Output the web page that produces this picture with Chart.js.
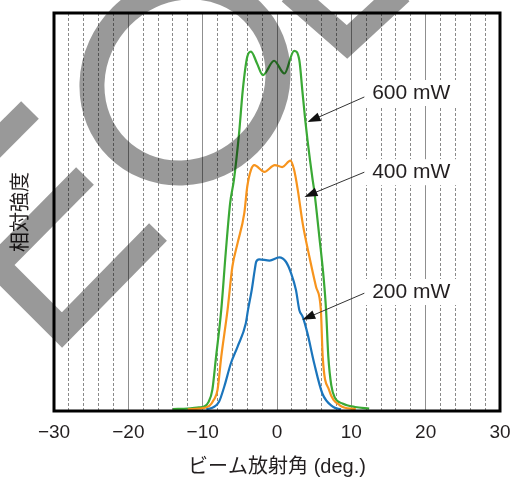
<!DOCTYPE html>
<html>
<head>
<meta charset="utf-8">
<script src="https://cdn.jsdelivr.net/npm/chart.js@4.4.1/dist/chart.umd.min.js"></script>
<style>
  body { margin: 0; background: #fff; }
</style>
</head>
<body>
<canvas id="chart" width="513" height="480"></canvas>
<script>
// Beam angle (deg) and relative intensity (0-100)
const angle600 = [-14, -12, -10.5, -9.8, -9.2, -8.7, -8.2, -7.5, -6.9, -6.3, -5.8, -5.1, -4.6, -4.0, -3.5, -2.7, -1.9, -0.4, 1.0, 2.3, 3.0, 3.4, 3.8, 4.1, 4.8, 5.0, 5.7, 6.3, 6.6, 6.9, 7.3, 7.8, 8.8, 10.5, 12.4];
const power600 = [0.5, 0.6, 0.9, 1.1, 2.3, 5.3, 13.6, 25.4, 39.7, 52.3, 58.0, 69.8, 80.7, 89.0, 90.3, 87.4, 84.4, 88.0, 84.8, 90.5, 88.2, 80.7, 73.1, 68.1, 58.0, 55.5, 43.7, 32.9, 25.4, 13.8, 6.5, 3.3, 1.9, 1.0, 0.6];

const angle400 = [-12, -10.5, -9.1, -8.5, -8.0, -7.5, -6.65, -6.0, -5.3, -4.4, -4.0, -3.5, -3.05, -1.7, -0.3, 0.7, 1.8, 2.3, 2.8, 3.45, 4.35, 5.25, 5.9, 6.15, 7.0, 8.4, 10.6];
const power400 = [0.4, 0.6, 1.3, 2.8, 5.3, 13.6, 25.4, 36.3, 42.2, 49.7, 56.4, 60.6, 61.8, 60.1, 61.8, 61.3, 62.9, 60.6, 55.5, 47.2, 38.8, 31.2, 25.4, 13.6, 5.3, 1.5, 0.4];

const angle200 = [-9.5, -8.5, -7.8, -7.1, -6.2, -5.3, -4.2, -3.9, -3.4, -3.0, -2.8, -2.4, -1.0, 0.3, 1.2, 1.9, 2.55, 3.0, 3.45, 4.1, 5.0, 6.1, 7.5, 8.6];
const power200 = [0.4, 1.0, 2.3, 6.1, 12.0, 16.2, 22.0, 25.4, 30.4, 35.4, 37.5, 38.1, 37.8, 38.6, 37.5, 34.6, 30.4, 25.4, 23.7, 19.5, 12.0, 4.4, 1.1, 0.4];

const seriesNames = ['200 mW', '400 mW', '600 mW'];
const seriesColors = ['#1b75bc', '#f7941d', '#3aa935'];

// callout labels (data units)
const calloutText = ['600 mW', '400 mW', '200 mW'];
const calloutX = 12.8;
const calloutY = [79.9, 60, 29.9];
const arrowFromX = 11.75;
const arrowFromY = [78.9, 60, 29.6];
const arrowToX = [4.1, 3.7, 3.4];
const arrowToY = [72.6, 53.8, 22.9];

const textColor = '#231f20';
const latin = '"Liberation Sans", Arial, "Noto Sans CJK JP", sans-serif';

function toPoints(xs, ys) {
    return xs.map((x, i) => ({ x: x, y: ys[i] }));
}

const callouts = {
    id: 'callouts',
    afterDatasetsDraw(chart) {
        const { ctx, chartArea: a, scales: { x, y } } = chart;
        ctx.save();
        calloutText.forEach((name, i) => {
            const tx = x.getPixelForValue(calloutX);
            const ty = y.getPixelForValue(calloutY[i]);
            ctx.fillStyle = '#fff';
            ctx.fillRect(tx - 9, ty - 13, 96, 26);

            const sx = x.getPixelForValue(arrowFromX), sy = y.getPixelForValue(arrowFromY[i]);
            const ex = x.getPixelForValue(arrowToX[i]), ey = y.getPixelForValue(arrowToY[i]);
            const ang = Math.atan2(ey - sy, ex - sx);
            ctx.strokeStyle = '#333';
            ctx.lineWidth = 1;
            ctx.beginPath();
            ctx.moveTo(sx, sy);
            ctx.lineTo(ex - 10 * Math.cos(ang), ey - 10 * Math.sin(ang));
            ctx.stroke();
            ctx.fillStyle = '#111';
            ctx.beginPath();
            ctx.moveTo(ex, ey);
            ctx.lineTo(ex - 13 * Math.cos(ang) + 4.5 * Math.sin(ang), ey - 13 * Math.sin(ang) - 4.5 * Math.cos(ang));
            ctx.lineTo(ex - 13 * Math.cos(ang) - 4.5 * Math.sin(ang), ey - 13 * Math.sin(ang) + 4.5 * Math.cos(ang));
            ctx.closePath();
            ctx.fill();

            ctx.fillStyle = textColor;
            ctx.font = '21px ' + latin;
            ctx.textBaseline = 'middle';
            ctx.textAlign = 'left';
            ctx.fillText(name, tx, ty);
        });
        // plot frame
        ctx.lineWidth = 3;
        ctx.strokeStyle = '#000';
        ctx.strokeRect(a.left, a.top, a.right - a.left, a.bottom - a.top);
        ctx.restore();
    }
};

// grey stamp strokes lying over the picture
const stamp = {
    id: 'stamp',
    afterDraw(chart) {
        const ctx = chart.ctx;
        ctx.save();
        ctx.strokeStyle = 'rgba(0,0,0,0.4)';
        ctx.lineWidth = 25;
        ctx.lineCap = 'butt';
        ctx.lineJoin = 'miter';
        ctx.beginPath();
        ctx.ellipse(185, 80, 96, 90, -Math.PI / 4, 0, Math.PI * 2);
        ctx.stroke();
        const strokes = [
            [[30, 110], [-25, 165]],
            [[85, 176], [-3, 265], [62, 330], [158, 232]],
            [[290, -8], [347, 42], [401, -8]]
        ];
        strokes.forEach(pts => {
            ctx.beginPath();
            pts.forEach((p, i) => i ? ctx.lineTo(p[0], p[1]) : ctx.moveTo(p[0], p[1]));
            ctx.stroke();
        });
        ctx.restore();
    }
};

Chart.defaults.font.family = latin;
Chart.defaults.color = textColor;

new Chart(document.getElementById('chart'), {
    type: 'line',
    data: {
        datasets: [
            { label: seriesNames[0], data: toPoints(angle200, power200), borderColor: seriesColors[0] },
            { label: seriesNames[1], data: toPoints(angle400, power400), borderColor: seriesColors[1] },
            { label: seriesNames[2], data: toPoints(angle600, power600), borderColor: seriesColors[2] }
        ]
    },
    options: {
        responsive: false,
        devicePixelRatio: 1,
        animation: false,
        layout: { padding: { left: 0, right: 13, top: 13, bottom: 0 } },
        elements: {
            point: { radius: 0 },
            line: { borderWidth: 2.2, cubicInterpolationMode: 'monotone', fill: false }
        },
        scales: {
            x: {
                type: 'linear',
                position: 'bottom',
                min: -30,
                max: 30,
                afterFit: s => {
                    s.height = 69;
                    s.paddingLeft = 0;
                    s.paddingRight = 0;
                },
                ticks: {
                    stepSize: 10,
                    padding: 10,
                    font: { size: 19 },
                    color: textColor,
                    callback: v => v < 0 ? '\u2212' + Math.abs(v) : String(v)
                },
                grid: {
                    drawTicks: false,
                    lineWidth: 1,
                    color: c => (c.tick && Math.abs(c.tick.value) === 30) ? 'rgba(0,0,0,0)' : '#8f8f8f'
                },
                border: { display: false },
                title: {
                    display: true,
                    text: 'ビーム放射角 (deg.)',
                    font: { size: 20 },
                    color: textColor,
                    padding: { top: 0, bottom: 1 }
                }
            },
            x2: {
                type: 'linear',
                axis: 'x',
                position: 'bottom',
                min: -30,
                max: 30,
                afterFit: s => {
                    s.height = 0;
                    s.paddingLeft = 0;
                    s.paddingRight = 0;
                },
                ticks: { stepSize: 2, display: false },
                grid: {
                    drawTicks: false,
                    lineWidth: 1,
                    color: c => (c.tick && c.tick.value % 10 === 0) ? 'rgba(0,0,0,0)' : '#8a8a8a'
                },
                border: { display: false, dash: [3, 2] }
            },
            y: {
                type: 'linear',
                min: 0,
                max: 100,
                afterFit: s => { s.width = 54; },
                ticks: { display: false },
                grid: { display: false },
                border: { display: false },
                title: {
                    display: true,
                    text: '相対強度',
                    font: { size: 20 },
                    color: textColor,
                    padding: { top: 9, bottom: 0 }
                }
            }
        },
        plugins: {
            legend: { display: false },
            tooltip: { enabled: false }
        }
    },
    plugins: [callouts, stamp]
});
</script>
</body>
</html>
